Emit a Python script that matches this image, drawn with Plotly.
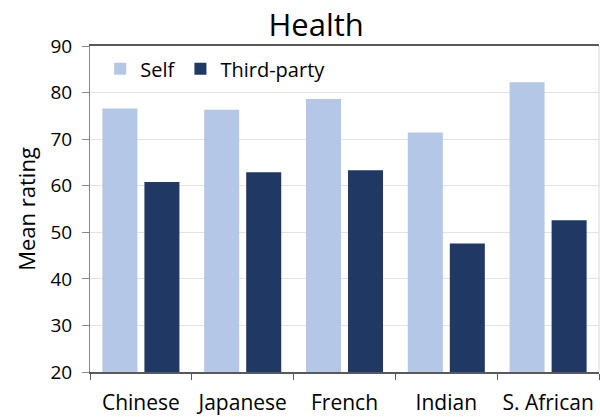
import plotly.graph_objects as go

categories = ["Chinese", "Japanese", "French", "Indian", "S. African"]
self_ratings = [76.6, 76.3, 78.6, 71.4, 82.2]
third_party_ratings = [60.8, 62.9, 63.3, 47.6, 52.6]
y_ticks = [20, 30, 40, 50, 60, 70, 80, 90]

FONT = "Open Sans"
TEXT = "#000000"

fig = go.Figure()
fig.add_trace(go.Bar(x=categories, y=self_ratings, name="Self",
                     marker=dict(color="#B4C7E7", line=dict(width=0))))
fig.add_trace(go.Bar(x=categories, y=third_party_ratings, name="Third-party",
                     marker=dict(color="#203864", line=dict(width=0))))

fig.update_layout(
    width=600, height=417,
    margin=dict(l=90, r=1, t=46, b=45),
    paper_bgcolor="white", plot_bgcolor="white",
    barmode="group", bargap=0.174, bargroupgap=0.167,
    font=dict(family=FONT, color=TEXT),
    title=dict(text="Health", x=0.527, xanchor="center", y=0.939, yanchor="middle",
               font=dict(size=31, family=FONT, color=TEXT)),
    legend=dict(orientation="h", x=0.02, y=0.99, xanchor="left", yanchor="top",
                font=dict(size=20, family=FONT, color=TEXT),
                bgcolor="rgba(0,0,0,0)", itemwidth=30, traceorder="normal"),
    xaxis=dict(
        type="category", tickson="boundaries", ticks="outside", ticklen=6,
        tickcolor="#595959", showline=True, linecolor="#595959", linewidth=1.5,
        mirror=True, showgrid=False,
        tickfont=dict(size=21, family=FONT, color=TEXT),
        ticklabelstandoff=11,
    ),
    yaxis=dict(
        range=[20, 90], tickvals=y_ticks, ticks="outside", ticklen=7,
        tickcolor="#898989", showline=True, linecolor="#898989", linewidth=1,
        showgrid=True, gridcolor="#E3E3E3", gridwidth=1, zeroline=False,
        tickfont=dict(size=19, family=FONT, color=TEXT),
        ticklabelstandoff=6,
        title=dict(text="Mean rating", font=dict(size=22, family=FONT, color=TEXT), standoff=8),
    ),
)

# light frame line on the right edge of the plotting area
fig.add_shape(type="line", xref="x domain", yref="y domain", x0=1, x1=1, y0=0, y1=1,
              line=dict(color="#D9D9D9", width=1))

fig.write_html("out.html")
